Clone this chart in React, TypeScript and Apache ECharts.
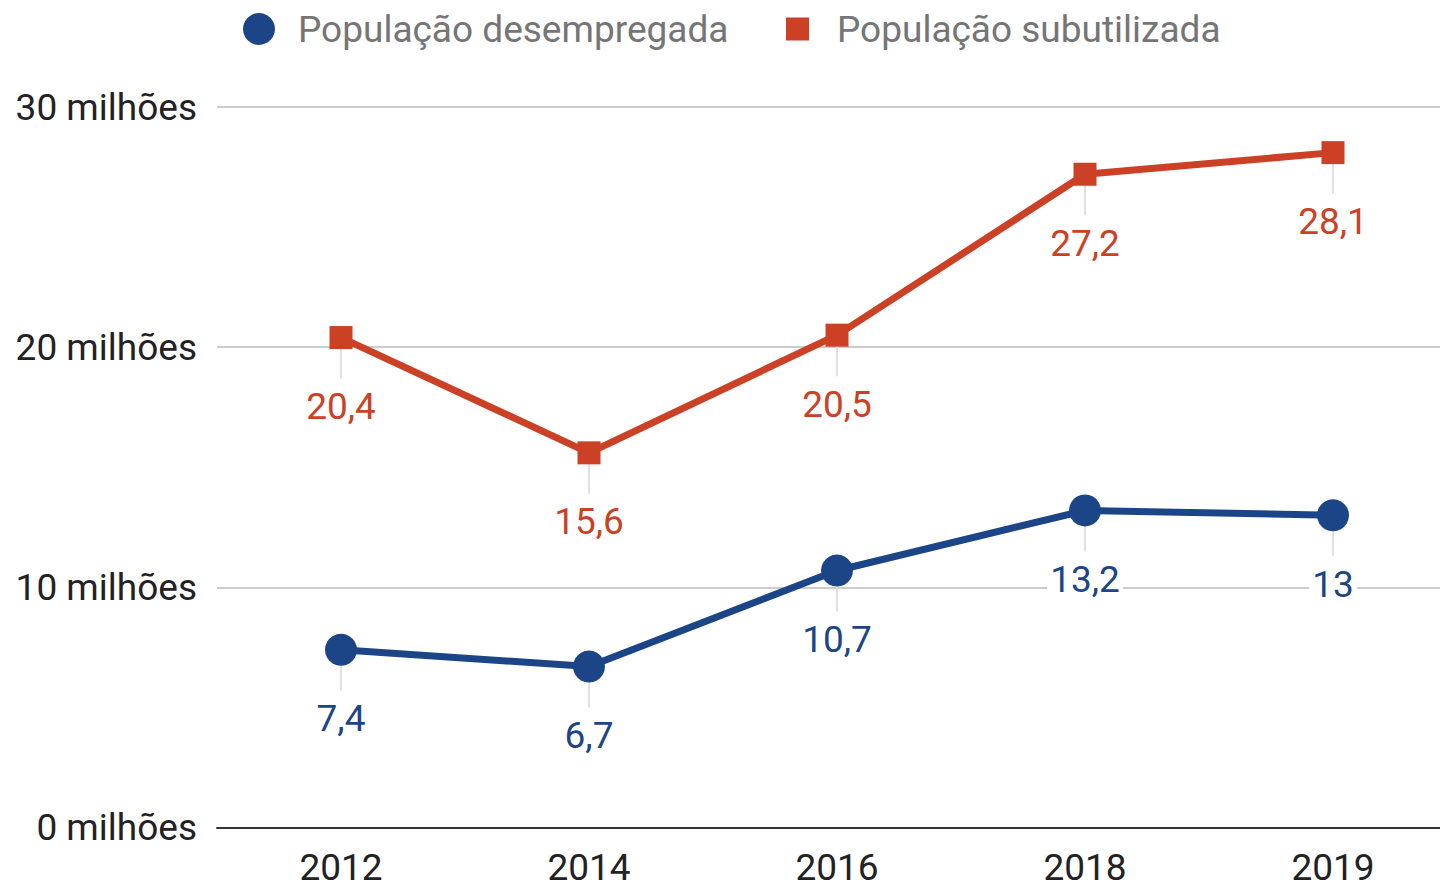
import React, { useEffect, useRef } from "react";
import * as echarts from "echarts";

const years = ["2012", "2014", "2016", "2018", "2019"];
const desempregada = [7.4, 6.7, 10.7, 13.2, 13];
const subutilizada = [20.4, 15.6, 20.5, 27.2, 28.1];
const yTicks = [0, 10, 20, 30];
const nameDes = "População desempregada";
const nameSub = "População subutilizada";
const blue = "#1c4587";
const red = "#cc4125";
const FONT = "Roboto";
const FS = 37;

function fmt(v: number) {
  return String(v).replace(".", ",");
}

function leaderSeries(name: string, values: number[]) {
  return {
    type: "custom",
    name: name + "-leader",
    z: 1,
    silent: true,
    data: values.map((v, i) => [i, v]),
    renderItem: (params: any, api: any) => {
      const p = api.coord([api.value(0), api.value(1)]);
      return {
        type: "line",
        shape: { x1: p[0], y1: p[1], x2: p[0], y2: p[1] + 41 },
        style: { stroke: "#e0e0e0", lineWidth: 2 },
      };
    },
  };
}

function lineSeries(name: string, values: number[], color: string, symbol: string, size: number) {
  return {
    type: "line",
    name,
    z: 3,
    data: values,
    symbol,
    symbolSize: size,
    showAllSymbol: true,
    lineStyle: { color, width: 7 },
    itemStyle: { color },
    label: {
      show: true,
      position: "inside",
      offset: [0, 69],
      formatter: (p: any) => fmt(p.value),
      color,
      fontFamily: FONT,
      fontSize: FS,
      backgroundColor: "#ffffff",
      padding: [0, 3],
    },
  };
}

export default function App() {
  const ref = useRef<HTMLDivElement>(null);
  useEffect(() => {
    if (!ref.current) return;
    const chart = echarts.init(ref.current, undefined, { renderer: "svg" });
    chart.setOption({
      animation: false,
      backgroundColor: "#ffffff",
      textStyle: { fontFamily: FONT },
      legend: [
        {
          data: [{ name: nameDes, icon: "circle" }],
          left: 243,
          top: 10.5,
          itemWidth: 32,
          itemHeight: 32,
          padding: 0,
          selectedMode: false,
          textStyle: { color: "#757575", fontSize: FS, fontFamily: FONT, padding: [0, 0, 0, 18] },
        },
        {
          data: [{ name: nameSub, icon: "rect" }],
          left: 786,
          top: 10.5,
          itemWidth: 23,
          itemHeight: 23,
          padding: 0,
          selectedMode: false,
          textStyle: { color: "#757575", fontSize: FS, fontFamily: FONT, padding: [0, 0, 0, 23] },
        },
      ],
      grid: { left: 217, right: 0, top: 107, bottom: 57, containLabel: false },
      xAxis: {
        type: "category",
        data: years,
        boundaryGap: true,
        axisLine: { show: true, lineStyle: { color: "#333333", width: 2 } },
        axisTick: { show: false },
        axisLabel: {
          color: "#222222",
          fontSize: FS,
          fontFamily: FONT,
          margin: 25,
          lineHeight: 30,
        },
      },
      yAxis: {
        type: "value",
        min: yTicks[0],
        max: yTicks[yTicks.length - 1],
        interval: yTicks[1] - yTicks[0],
        axisLine: { show: false },
        axisTick: { show: false },
        splitLine: { lineStyle: { color: "#cccccc", width: 2 } },
        axisLabel: {
          color: "#222222",
          fontSize: FS,
          fontFamily: FONT,
          margin: 20,
          formatter: (v: number) => `${v} milhões`,
        },
      },
      series: [
        leaderSeries(nameSub, subutilizada),
        leaderSeries(nameDes, desempregada),
        lineSeries(nameSub, subutilizada, red, "rect", 23),
        lineSeries(nameDes, desempregada, blue, "circle", 32),
      ],
    });
    return () => chart.dispose();
  }, []);
  return (
    <div style={{ position: "absolute", left: 0, top: 0, width: 1440, height: 886, overflow: "hidden" }}>
      <div ref={ref} style={{ position: "absolute", left: 0, top: 0, width: 1457, height: 886 }} />
    </div>
  );
}
